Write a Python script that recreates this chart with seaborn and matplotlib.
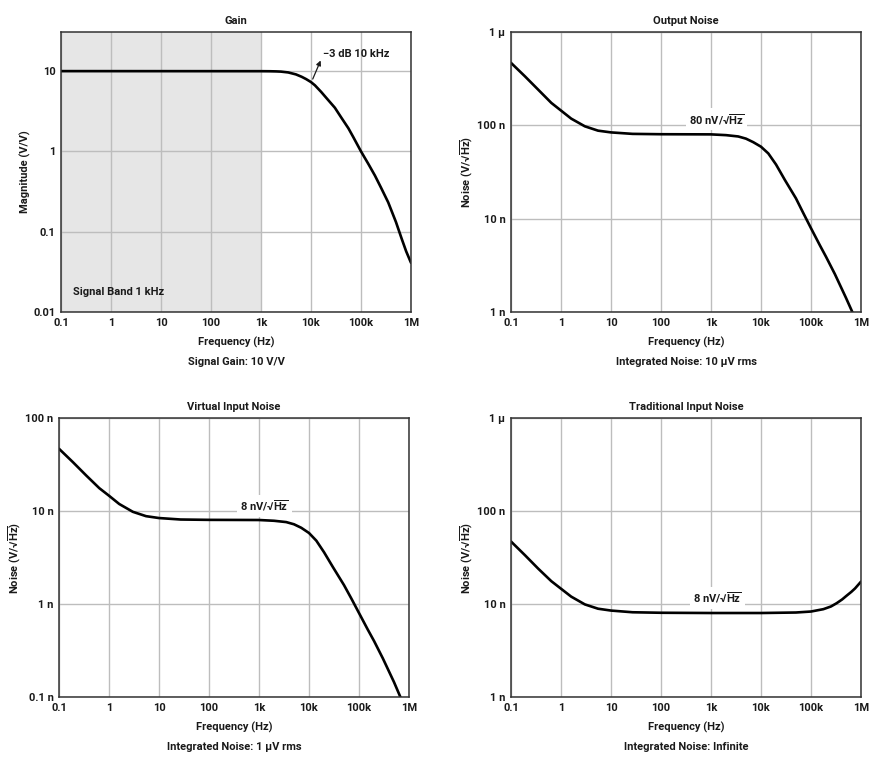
import numpy as np
import pandas as pd
import seaborn as sns
import matplotlib.pyplot as plt

# frequency ticks shared by every panel
freq_ticks = [0.1, 1, 10, 100, 1e3, 1e4, 1e5, 1e6]
freq_labels = ["0.1", "1", "10", "100", "1k", "10k", "100k", "1M"]

# Gain (V/V)
gain_f = [0.1, 1e3, 1.5e3, 2e3, 2.5e3, 3.5e3, 5e3, 6.5e3, 8e3, 1e4, 1.2e4, 1.6e4, 2e4, 3e4, 4e4,
          5.6e4, 7e4, 1e5, 1.4e5, 1.9e5, 2.5e5, 3.5e5, 5e5, 6.5e5, 8e5, 1e6]
gain_v = [10, 9.98, 9.96, 9.92, 9.86, 9.63, 9.1, 8.5, 7.95, 7.3, 6.65, 5.5, 4.68, 3.5, 2.66,
          1.94, 1.51, 1.0, 0.70, 0.50, 0.356, 0.232, 0.132, 0.082, 0.057, 0.041]

# Output noise (nV/rtHz)
out_f = [0.1, 0.19, 0.35, 0.64, 1, 1.6, 3, 5.5, 10, 27, 100, 1e3, 2e3, 3.5e3, 5e3, 7e3, 1e4,
         1.4e4, 2e4, 3e4, 5e4, 7e4, 1e5, 1.5e5, 2e5, 3e5, 5e5, 7e5, 1e6]
out_v = [467, 335, 241, 174, 144, 118, 97.6, 87.7, 84, 81, 80.3, 80, 78.5, 76, 72, 66, 59,
         50, 38, 26, 16.5, 11.5, 7.9, 5.2, 3.9, 2.55, 1.42, 0.95, 0.63]

# Virtual input noise (nV/rtHz)
vin_f = [0.1, 0.19, 0.35, 0.64, 1, 1.6, 3, 5.5, 10, 27, 100, 1e3, 2e3, 3.5e3, 5e3, 7e3, 1e4,
         1.4e4, 2e4, 3e4, 5e4, 7e4, 1e5, 1.5e5, 2e5, 3e5, 5e5, 7e5, 1e6]
vin_v = [46.7, 33.5, 24.1, 17.6, 14.6, 11.9, 9.8, 8.8, 8.4, 8.1, 8.03, 8.0, 7.85, 7.6, 7.2,
         6.6, 5.8, 4.8, 3.6, 2.5, 1.6, 1.15, 0.8, 0.53, 0.4, 0.26, 0.145, 0.095, 0.064]

# Traditional input noise (nV/rtHz)
tin_f = [0.1, 0.19, 0.35, 0.64, 1, 1.6, 3, 5.5, 10, 27, 100, 1e3, 1e4, 5e4, 1e5, 1.77e5,
         2.5e5, 3.26e5, 4.2e5, 5.17e5, 6.4e5, 7.6e5, 1e6]
tin_v = [47, 33.5, 24, 17.6, 14.6, 12, 9.9, 8.9, 8.5, 8.15, 8.05, 8.0, 8.0, 8.1, 8.3, 8.8,
         9.4, 10.2, 11.2, 12.3, 13.5, 14.7, 17.4]

noise_ticks_1u = [1, 10, 100, 1000]
noise_labels_1u = ["1 n", "10 n", "100 n", "1 \u00b5"]
noise_ticks_100n = [0.1, 1, 10, 100]
noise_labels_100n = ["0.1 n", "1 n", "10 n", "100 n"]
gain_ticks = [0.01, 0.1, 1, 10]
gain_labels = ["0.01", "0.1", "1", "10"]

sns.set_theme(style="white")
plt.rcParams['font.family'] = ['Roboto', 'DejaVu Sans']
plt.rcParams['font.weight'] = 'bold'
plt.rcParams['mathtext.fontset'] = 'custom'
plt.rcParams['mathtext.rm'] = 'Roboto:bold'
plt.rcParams['mathtext.it'] = 'Roboto:bold'
plt.rcParams['mathtext.bf'] = 'Roboto:bold'

FS = 8
INK = "#1a1a1a"
GRID = "#bdbdbd"
rt = "\u221a" + r"$\overline{\mathrm{Hz}}$"

fig = plt.figure(figsize=(8.76, 7.68), dpi=100)
W, H = 876, 768


def make_axes(left, top, right, bottom):
    return fig.add_axes([left / W, 1 - bottom / H, (right - left) / W, (bottom - top) / H])


def style(ax, title, ylabel, yticks, ylabels, ylim, caption):
    ax.set_xscale("log")
    ax.set_yscale("log")
    ax.set_xlim(0.1, 1e6)
    ax.set_ylim(*ylim)
    ax.set_xticks(freq_ticks)
    ax.set_xticklabels(freq_labels)
    ax.set_yticks(yticks)
    ax.set_yticklabels(ylabels)
    ax.minorticks_off()
    ax.tick_params(length=0, labelsize=FS, colors=INK, pad=4)
    ax.grid(True, which="major", color=GRID, lw=1.0)
    ax.set_axisbelow(True)
    for s in ax.spines.values():
        s.set_color("#333333")
        s.set_linewidth(1.1)
        s.set_zorder(5)
    ax.set_title(title, fontsize=FS, fontweight="bold", color=INK, pad=6)
    ax.set_xlabel("Frequency (Hz)", fontsize=FS, fontweight="bold", color=INK, labelpad=6.5)
    ax.set_ylabel(ylabel, fontsize=FS, fontweight="bold", color=INK, labelpad=1.5)
    ax.text(0.5, -0.18, caption, transform=ax.transAxes, ha="center", va="center",
            fontsize=FS, fontweight="bold", color=INK)


def curve(ax, f, v):
    df = pd.DataFrame({"f": f, "v": v})
    sns.lineplot(data=df, x="f", y="v", ax=ax, color="black", lw=1.9, zorder=3)


def value_label(ax, x, y, s):
    ax.text(x, y, s, fontsize=FS, fontweight="bold", color=INK, ha="center", va="center",
            bbox=dict(facecolor="white", edgecolor="none", pad=2.5), zorder=4)


# --- Gain
ax1 = make_axes(61, 32, 411, 312)
ax1.axvspan(0.1, 1e3, color="#e6e6e6", zorder=0, lw=0)
curve(ax1, gain_f, gain_v)
style(ax1, "Gain", "Magnitude (V/V)", gain_ticks, gain_labels, (0.01, 30.7), "Signal Gain: 10 V/V")
ax1.annotate("\u22123 dB 10 kHz", xy=(16.4e3, 14.6), xytext=(17.4e3, 16.3),
             fontsize=FS, fontweight="bold", color=INK, ha="left", va="center")
ax1.annotate("", xy=(16.4e3, 14.6), xytext=(10.3e3, 7.4),
             arrowprops=dict(arrowstyle="-|>", color=INK, lw=0.9, mutation_scale=7))
ax1.text(0.174, 0.0177, "Signal Band 1 kHz", fontsize=FS, fontweight="bold", color=INK,
         ha="left", va="center")

# --- Output noise
ax2 = make_axes(511, 32, 861, 312)
curve(ax2, out_f, out_v)
style(ax2, "Output Noise", "Noise (V/" + rt + ")", noise_ticks_1u, noise_labels_1u,
      (1, 1000), "Integrated Noise: 10 \u00b5V rms")
value_label(ax2, 1.29e3, 116, "80 nV/" + rt)

# --- Virtual input noise
ax3 = make_axes(59, 418, 409, 697)
curve(ax3, vin_f, vin_v)
style(ax3, "Virtual Input Noise", "Noise (V/" + rt + ")", noise_ticks_100n, noise_labels_100n,
      (0.1, 100), "Integrated Noise: 1 \u00b5V rms")
value_label(ax3, 1.29e3, 11.4, "8 nV/" + rt)

# --- Traditional input noise
ax4 = make_axes(511, 418, 861, 697)
curve(ax4, tin_f, tin_v)
style(ax4, "Traditional Input Noise", "Noise (V/" + rt + ")", noise_ticks_1u, noise_labels_1u,
      (1, 1000), "Integrated Noise: Infinite")
value_label(ax4, 1.35e3, 11.6, "8 nV/" + rt)

plt.savefig("out.png", dpi=100)
